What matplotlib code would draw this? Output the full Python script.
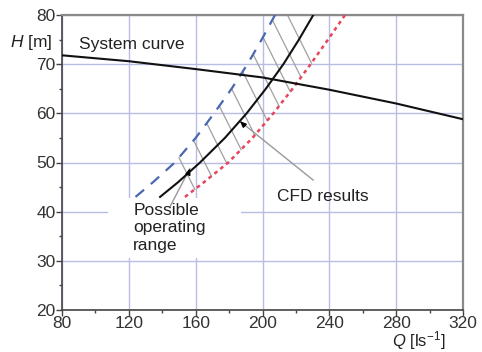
import matplotlib
matplotlib.use("Agg")
import matplotlib.pyplot as plt
from matplotlib.patches import Rectangle
from matplotlib.ticker import MultipleLocator
import numpy as np

plt.rcParams['font.family'] = ['Liberation Sans', 'DejaVu Sans']
plt.rcParams['mathtext.fontset'] = 'custom'
plt.rcParams['mathtext.rm'] = 'Liberation Sans'
plt.rcParams['mathtext.it'] = 'Liberation Sans:italic'

# system curve
sys_q = [80, 120, 160, 200, 240, 280, 320]
sys_h = [71.8, 70.6, 69.0, 67.3, 64.8, 62.0, 58.8]

# pump curves (Q read at given heads)
pump_h = [43, 46, 50, 55, 60, 65, 70, 75, 80]
cfd_q = [138.7, 149.5, 162.6, 177.5, 190.5, 202.0, 212.5, 221.8, 230.4]
red_q = [153.6, 165.0, 179.5, 194.0, 206.5, 218.0, 228.8, 239.2, 249.4]
blue_h = [43, 46, 50, 55, 60, 65, 70, 75, 80, 85]
blue_q = [124.0, 134.5, 147.5, 160.0, 171.0, 181.5, 191.0, 199.5, 207.5, 215.0]

# heads on the blue curve where hatch lines start
hatch_h = [51, 54.5, 58, 61.5, 65, 68.5, 72, 75.5, 79, 82.5]
hatch_slope = -0.68

grid_c = '#b9bde3'

fig = plt.figure(figsize=(4.82, 3.52), dpi=100)
ax = fig.add_axes([62 / 482, 1 - 310 / 352, 401 / 482, 295 / 352])

ax.set_xlim(80, 320)
ax.set_ylim(20, 80)
ax.xaxis.set_major_locator(MultipleLocator(40))
ax.xaxis.set_minor_locator(MultipleLocator(20))
ax.yaxis.set_major_locator(MultipleLocator(10))
ax.yaxis.set_minor_locator(MultipleLocator(5))
ax.grid(True, which='major', color=grid_c, linewidth=1.0, zorder=0)
ax.set_axisbelow(True)

ax.tick_params(which='both', direction='out', top=False, right=False,
               labelsize=12.5, labelcolor='#333333', color='#444444', pad=0.5)
ax.tick_params(which='major', length=4, width=1)
ax.tick_params(which='minor', length=2.5, width=1)
for s in ['left', 'bottom']:
    ax.spines[s].set_color('#444444')
    ax.spines[s].set_linewidth(1.2)
for s in ['top', 'right']:
    ax.spines[s].set_color('#8a8a8a')
    ax.spines[s].set_linewidth(1.6)

# white box behind the label text
ax.add_patch(Rectangle((107.5, 30.6), 79.6, 12.2, facecolor='white',
                       edgecolor='none', zorder=1))

# hatch lines between blue and red curves
hh = np.linspace(40, 90, 2001)
red_line = np.interp(hh, pump_h, red_q)
for h0 in hatch_h:
    q0 = np.interp(h0, blue_h, blue_q)
    line_q = q0 + (hh - h0) / hatch_slope
    diff = line_q - red_line
    idx = np.where((hh <= h0) & (diff >= 0))[0]
    h1 = hh[idx[-1]]
    q1 = q0 + (h1 - h0) / hatch_slope
    ax.plot([q0, q1], [h0, h1], color='#a0a0a0', linewidth=0.9, zorder=2)

ax.plot(blue_q, blue_h, color='#4a68b0', linewidth=1.6, dashes=(5, 4), zorder=3)
ax.plot(red_q, pump_h, color='#e8455a', linewidth=1.8, dashes=(1.5, 1.5), zorder=3)
ax.plot(cfd_q, pump_h, color='#111111', linewidth=1.5, zorder=4)
ax.plot(sys_q, sys_h, color='#111111', linewidth=1.5, zorder=4)

# leaders
ax.annotate('', xy=(186.5, 58.4), xytext=(230.4, 46.4),
            arrowprops=dict(arrowstyle='-', color='#999999', linewidth=1.0,
                            shrinkA=0, shrinkB=0), zorder=3)
ax.annotate('', xy=(186.5, 58.4), xytext=(189.0, 57.6),
            arrowprops=dict(arrowstyle='-|>,head_length=0.35,head_width=0.15',
                            color='black', linewidth=1.0, shrinkA=0, shrinkB=0), zorder=5)
ax.annotate('', xy=(156.6, 48.8), xytext=(144.6, 41.0),
            arrowprops=dict(arrowstyle='-', color='#999999', linewidth=1.0,
                            shrinkA=0, shrinkB=0), zorder=3)
ax.annotate('', xy=(156.6, 48.8), xytext=(155.4, 47.6),
            arrowprops=dict(arrowstyle='-|>,head_length=0.35,head_width=0.15',
                            color='black', linewidth=1.0, shrinkA=0, shrinkB=0), zorder=5)

ax.text(90.4, 73.9, 'System curve', fontsize=12.5, color='#222222',
        va='center', ha='left', zorder=6)
ax.text(208.7, 43.0, 'CFD results', fontsize=12.5, color='#222222',
        va='center', ha='left', zorder=6)
ax.text(122.7, 41.8, 'Possible\noperating\nrange', fontsize=12.5, color='#222222',
        va='top', ha='left', linespacing=1.2, zorder=6)

fig.text(52 / 482, 1 - 43 / 352, r'$H$ [m]', fontsize=12.5, color='#222222',
         ha='right', va='center')
fig.text(445 / 482, 1 - 341 / 352, r'$Q$ [ls$^{-1}$]', fontsize=12, color='#222222',
         ha='right', va='center')

fig.savefig('out.png', dpi=100)
